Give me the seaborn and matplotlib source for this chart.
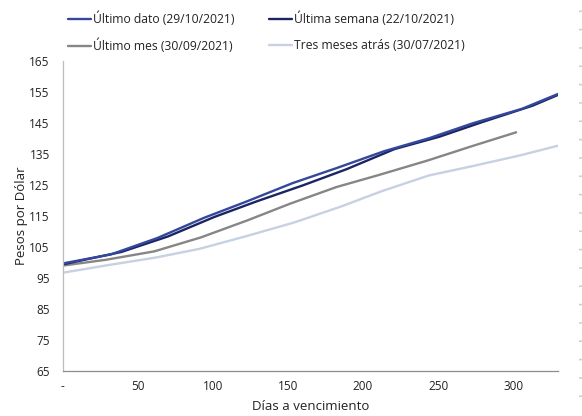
import matplotlib
matplotlib.use("Agg")
import matplotlib.pyplot as plt
from matplotlib.lines import Line2D
import seaborn as sns
import numpy as np
import pandas as pd

# curvas de tipo de cambio futuro (pesos por dolar) vs dias a vencimiento
dias_dato = [0, 32, 63, 94, 122, 153, 182, 214, 244, 273, 306, 330]
valores_dato = [99.6, 102.5, 107.8, 114.3, 119.5, 125.5, 130.3, 135.8, 140.0, 144.8, 149.5, 154.3]

dias_semana = [0, 39, 70, 101, 129, 160, 189, 221, 251, 280, 313, 330]
valores_semana = [99.3, 103.3, 108.3, 114.6, 119.6, 124.8, 130.0, 136.5, 140.5, 145.3, 150.5, 154.0]

dias_mes = [0, 29, 61, 92, 123, 151, 182, 211, 243, 273, 302]
valores_mes = [98.9, 100.8, 103.5, 108.0, 113.5, 118.8, 124.2, 128.2, 132.8, 137.5, 141.9]

dias_tres = [0, 32, 62, 91, 123, 154, 185, 213, 244, 273, 305, 330]
valores_tres = [96.6, 99.2, 101.5, 104.3, 108.5, 112.8, 117.9, 123.0, 128.0, 131.0, 134.5, 137.6]

series = ["Último dato (29/10/2021)", "Última semana (22/10/2021)",
          "Último mes (30/09/2021)", "Tres meses atrás (30/07/2021)"]
colores = ["#33489c", "#1c2462", "#868686", "#c6d1e1"]

x_ticks = [0, 50, 100, 150, 200, 250, 300]
x_labels = ["-", "50", "100", "150", "200", "250", "300"]
y_ticks = list(range(65, 166, 10))

frames = []
for nombre, d, v in zip(series,
                        [dias_dato, dias_semana, dias_mes, dias_tres],
                        [valores_dato, valores_semana, valores_mes, valores_tres]):
    frames.append(pd.DataFrame({"dias": d, "valor": v, "serie": nombre}))
df = pd.concat(frames, ignore_index=True)

sns.set_style("white")
plt.rcParams["font.family"] = ["Open Sans", "DejaVu Sans"]

fig = plt.figure(figsize=(5.82, 4.16), dpi=100)
ax = fig.add_axes([0.108, 0.109, 0.851, 0.745])

# dibujar de atras hacia adelante
orden = [3, 2, 1, 0]
for i in orden:
    sub = df[df["serie"] == series[i]]
    sns.lineplot(data=sub, x="dias", y="valor", color=colores[i], lw=1.7,
                 ax=ax, label=series[i], sort=False)

ax.set_xlim(0, 330)
ax.set_ylim(65, 165)
ax.set_xticks(x_ticks)
ax.set_xticklabels(x_labels)
ax.set_yticks(y_ticks)
ax.tick_params(axis="both", direction="in", length=3.5, width=0.8,
               color="#9a9a9a", labelsize=8.5, labelcolor="#222222", pad=7)
ax.tick_params(axis="y", pad=9.5)
ax.set_xlabel("Días a vencimiento", fontsize=9.5, color="#222222", labelpad=5)
ax.set_ylabel("Pesos por Dólar", fontsize=9.5, color="#222222", labelpad=1)

for s in ["top", "right"]:
    ax.spines[s].set_visible(False)
ax.spines["left"].set_color("#bdbdbd")
ax.spines["bottom"].set_color("#8c8c8c")
ax.spines["left"].set_linewidth(0.9)
ax.spines["bottom"].set_linewidth(0.9)

ax.get_legend().remove()
h = {l: hd for hd, l in zip(*ax.get_legend_handles_labels())}
orden_leyenda = [series[0], series[2], series[1], series[3]]
fig.legend([h[l] for l in orden_leyenda], orden_leyenda, ncol=2, frameon=False,
           loc="upper left", bbox_to_anchor=(0.098, 0.998), fontsize=8.7,
           handlelength=1.9, handletextpad=0.15, columnspacing=2.9,
           labelspacing=1.05, labelcolor="#222222")

# marcas grises del borde derecho
fig.add_artist(Line2D([0.9965, 0.9965], [0.975, 0.02], transform=fig.transFigure,
                      color="#cfcfcf", lw=2.2, linestyle=(0, (0.5, 5.5))))

fig.savefig("out.png", dpi=100)
